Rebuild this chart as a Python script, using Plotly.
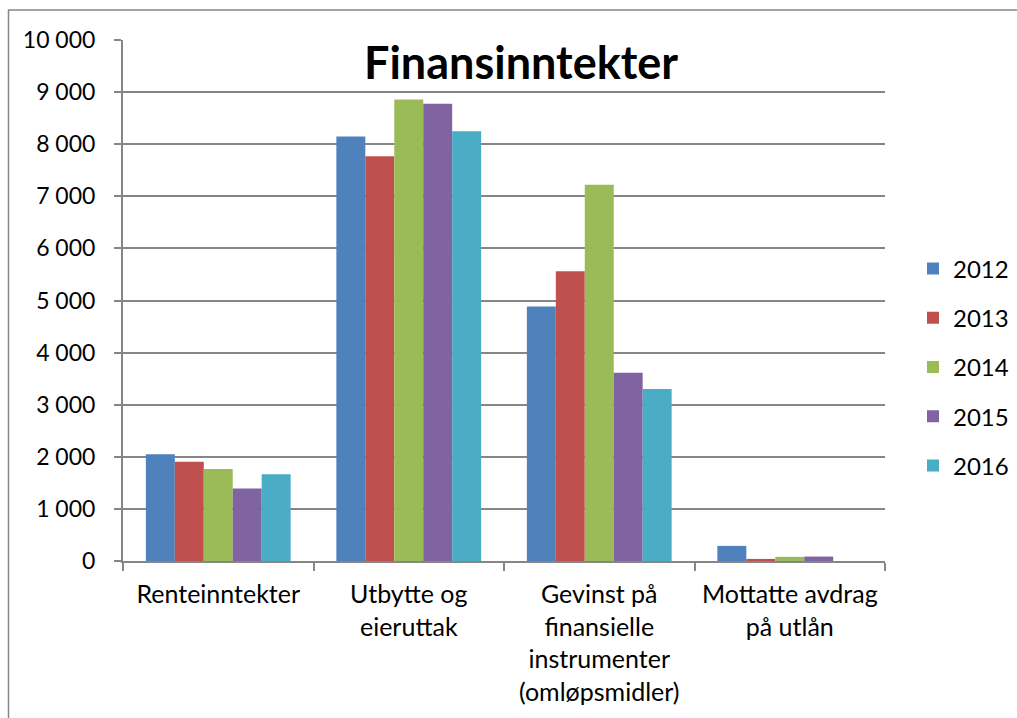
import plotly.graph_objects as go

categories = ["Renteinntekter", "Utbytte og<br>eieruttak",
              "Gevinst på<br>finansielle<br>instrumenter<br>(omløpsmidler)",
              "Mottatte avdrag<br>på utlån"]
years = ["2012", "2013", "2014", "2015", "2016"]
values = {
    "2012": [2050, 8150, 4885, 290],
    "2013": [1905, 7770, 5560, 40],
    "2014": [1765, 8860, 7220, 80],
    "2015": [1390, 8775, 3615, 85],
    "2016": [1665, 8250, 3300, 0],
}
colors = ["#4F81BD", "#C0504D", "#9BBB59", "#8064A2", "#4BACC6"]
title_text = "Finansinntekter"
y_ticks = [0, 1000, 2000, 3000, 4000, 5000, 6000, 7000, 8000, 9000, 10000]

FONT = "Lato"
fig = go.Figure()
for y, c in zip(years, colors):
    fig.add_trace(go.Bar(x=categories, y=values[y], name=y, marker_color=c,
                         marker_line_width=0, legendgroup=y))

W, H = 1017, 718
L, T = 123, 40
pw, ph = 762, 521
R, B = W - L - pw, H - T - ph
base = T + ph  # y of the zero line


def px(x):
    return (x - L) / pw


def py(y):
    return (base - y) / ph


fig.update_layout(
    width=W, height=H,
    margin=dict(l=L, r=R, t=T, b=B, pad=0, autoexpand=False),
    paper_bgcolor="white", plot_bgcolor="white",
    separators=", ",
    barmode="group", bargap=0.24, bargroupgap=0,
    font=dict(family=FONT, size=23, color="black"),
    showlegend=True,
    legend=dict(x=px(913), xanchor="left", y=py(367), yanchor="middle",
                font=dict(size=24), tracegroupgap=15, itemwidth=30,
                bgcolor="rgba(0,0,0,0)"),
    xaxis=dict(showline=True, linecolor="#868686", linewidth=2,
               ticks="outside", tickson="boundaries", ticklen=8, tickcolor="#868686",
               tickwidth=2, showgrid=False, tickfont=dict(size=25),
               ticklabelstandoff=10, automargin=False),
    yaxis=dict(range=[0, 10000], tickvals=y_ticks, tickformat=",d",
               showline=True, linecolor="#868686", linewidth=2,
               ticks="outside", ticklen=7, tickcolor="#868686", tickwidth=2,
               showgrid=True, gridcolor="#868686", gridwidth=1.8,
               zeroline=False, tickfont=dict(size=23), ticklabelstandoff=14,
               automargin=False),
    annotations=[dict(text="<b>" + title_text + "</b>", x=px(521), y=py(62),
                      xref="paper", yref="paper", showarrow=False,
                      xanchor="center", yanchor="middle",
                      font=dict(family=FONT, size=45, color="black"))],
    shapes=[dict(type="rect", xref="paper", yref="paper",
                 x0=px(8.5), x1=px(1100),
                 y0=py(800), y1=py(10),
                 line=dict(color="#868686", width=1.5), fillcolor="rgba(0,0,0,0)",
                 layer="below")],
)

fig.write_html("out.html", config={"displayModeBar": False},
               post_script="document.body.style.margin='0';"
                           "document.body.style.overflow='hidden';")
